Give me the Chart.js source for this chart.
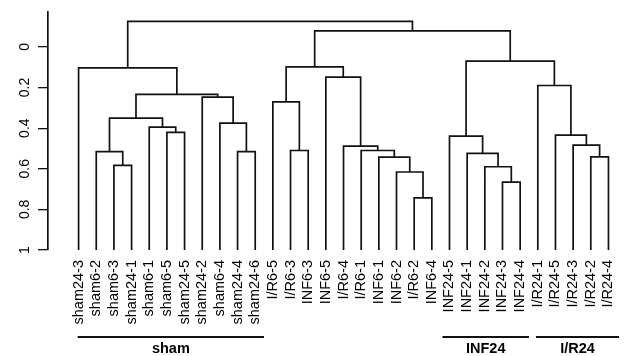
<!doctype html>
<html>
<head>
	<title>Dendrogram</title>
	<script src="https://cdn.jsdelivr.net/npm/chart.js@4/dist/chart.umd.min.js"></script>
	<style>
		body { margin: 0; background: #fff; }
		#wrap { width: 636px; height: 356px; }
	</style>
</head>
<body>
	<div id="wrap"><canvas id="canvas"></canvas></div>
	<script>
		// leaves in plotted order
		var leafLabels = [
			'sham24-3', 'sham6-2', 'sham6-3', 'sham24-1', 'sham6-1', 'sham6-5', 'sham24-5',
			'sham24-2', 'sham6-4', 'sham24-4', 'sham24-6',
			'I/R6-5', 'I/R6-3', 'INF6-3', 'INF6-5', 'I/R6-4', 'I/R6-1', 'INF6-1', 'INF6-2', 'I/R6-2', 'INF6-4',
			'INF24-5', 'INF24-1', 'INF24-2', 'INF24-3', 'INF24-4',
			'I/R24-1', 'I/R24-5', 'I/R24-3', 'I/R24-2', 'I/R24-4'
		];

		// merge table like hclust: negative = leaf (-(index+1)), positive = earlier merge row
		var mergeLeft = [-3, -2, -6, -5, 2, -10, -9, -8, 5, -1,
			-13, -12, -20, -19, -18, -17, -16, -15, 12,
			-25, -24, -23, -22,
			-30, -29, -28, -27,
			23, 19, 10];
		var mergeRight = [-4, 1, -7, 3, 4, -11, 6, 7, 8, 9,
			-14, 11, -21, 13, 14, 15, 16, 17, 18,
			-26, 20, 21, 22,
			-31, 24, 25, 26,
			27, 28, 29];
		var mergeHeight = [0.583, 0.516, 0.421, 0.395, 0.351, 0.516, 0.375, 0.247, 0.234, 0.103,
			0.51, 0.271, 0.743, 0.616, 0.543, 0.51, 0.488, 0.149, 0.098,
			0.666, 0.59, 0.524, 0.439,
			0.541, 0.484, 0.434, 0.19,
			0.070, -0.079, -0.126];

		var yTicks = [0, 0.2, 0.4, 0.6, 0.8, 1];

		var groupNames = ['sham', 'INF24', 'I/R24'];
		var groupFrom = [-0.05, 20.6, 25.9];
		var groupTo = [10.5, 25.5, 30.6];

		var nodeX = [];
		function nodePos(ref) {
			if (ref < 0) return { x: -ref - 1, y: 1 };
			return { x: nodeX[ref - 1], y: mergeHeight[ref - 1] };
		}

		var datasets = [];
		for (var i = 0; i < mergeHeight.length; i++) {
			var a = nodePos(mergeLeft[i]);
			var b = nodePos(mergeRight[i]);
			var h = mergeHeight[i];
			nodeX.push((a.x + b.x) / 2);
			datasets.push({
				data: [{ x: a.x, y: a.y }, { x: a.x, y: h }, { x: b.x, y: h }, { x: b.x, y: b.y }],
				showLine: true,
				borderColor: '#111',
				borderWidth: 1.7,
				pointRadius: 0,
				fill: false
			});
		}

		var groupBars = {
			id: 'groupBars',
			afterDraw: function(chart) {
				var ctx = chart.ctx;
				var xs = chart.scales.x;
				var yBar = chart.chartArea.bottom + 87;
				ctx.save();
				ctx.strokeStyle = '#111';
				ctx.lineWidth = 2;
				ctx.fillStyle = '#000';
				ctx.font = 'bold 14.5px "Liberation Sans", Arial, sans-serif';
				ctx.textAlign = 'center';
				ctx.textBaseline = 'middle';
				for (var g = 0; g < groupNames.length; g++) {
					var x1 = xs.getPixelForValue(groupFrom[g]);
					var x2 = xs.getPixelForValue(groupTo[g]);
					ctx.beginPath();
					ctx.moveTo(x1, yBar);
					ctx.lineTo(x2, yBar);
					ctx.stroke();
					ctx.fillText(groupNames[g], (x1 + x2) / 2, yBar + 11.5);
				}
				ctx.restore();
			}
		};

		var config = {
			type: 'scatter',
			data: { datasets: datasets },
			options: {
				responsive: true,
				maintainAspectRatio: false,
				animation: false,
				layout: { padding: { left: 0, right: 6, top: 12, bottom: 0 } },
				plugins: {
					legend: { display: false },
					tooltip: { enabled: false }
				},
				scales: {
					x: {
						type: 'linear',
						min: -1.732,
						max: 30.78,
						grid: { display: false, drawTicks: false },
						border: { display: false },
						afterBuildTicks: function(scale) {
							scale.ticks = leafLabels.map(function(l, i) { return { value: i }; });
						},
						afterFit: function(scale) { scale.height = 106; },
						ticks: {
							autoSkip: false,
							minRotation: 90,
							maxRotation: 90,
							padding: 10,
							color: '#000',
							font: { family: '"Liberation Sans", Arial, sans-serif', size: 14.5 },
							callback: function(v) { return leafLabels[v]; }
						}
					},
					y: {
						type: 'linear',
						reverse: true,
						min: -0.172,
						max: 1,
						grid: { drawOnChartArea: false, drawTicks: true, tickLength: 10, color: '#111', lineWidth: 1.3 },
						border: { display: true, color: '#111', width: 1.7 },
						afterBuildTicks: function(scale) {
							scale.ticks = yTicks.map(function(v) { return { value: v }; });
						},
						afterFit: function(scale) { scale.width = 48; },
						ticks: {
							minRotation: 90,
							maxRotation: 90,
							crossAlign: 'center',
							padding: 3,
							color: '#000',
							font: { family: '"Liberation Sans", Arial, sans-serif', size: 14 },
							callback: function(v) { return String(v); }
						}
					}
				}
			},
			plugins: [groupBars]
		};

		window.onload = function() {
			window.myChart = new Chart(document.getElementById('canvas'), config);
		};
	</script>
</body>
</html>
